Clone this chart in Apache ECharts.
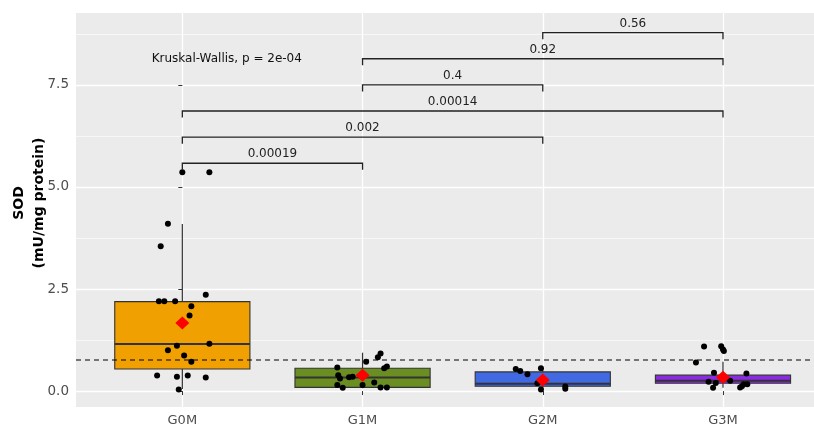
<!DOCTYPE html>
<html>
<head>
<meta charset="utf-8">
<script src="https://cdn.jsdelivr.net/npm/echarts@6/dist/echarts.min.js"></script>
<style>
  html, body { margin: 0; padding: 0; background: #ffffff; }
  #chart { width: 814px; height: 429px; }
</style>
</head>
<body>
<div id="chart"></div>
<script>
// Groups on the x axis
const groups = ['G0M', 'G1M', 'G2M', 'G3M'];
const boxColors = ['#F0A000', '#6B8E23', '#4169E1', '#8A2BE2'];

// Box statistics per group
const whiskerLow  = [0.05, 0.07, 0.04, 0.08];
const q1          = [0.54, 0.09, 0.12, 0.19];
const median      = [1.15, 0.33, 0.18, 0.25];
const q3          = [2.19, 0.56, 0.47, 0.39];
const whiskerHigh = [4.09, 0.94, 0.56, 0.72];
const means       = [1.67, 0.39, 0.27, 0.34];

// Individual observations: [horizontal jitter in group units, SOD value]
const pointsG0M = [
  [0.00, 5.36], [0.15, 5.36], [-0.08, 4.10], [-0.12, 3.55], [0.13, 2.36],
  [-0.13, 2.20], [-0.10, 2.20], [-0.04, 2.20], [0.05, 2.08], [0.04, 1.85],
  [-0.03, 1.11], [0.15, 1.16], [-0.08, 1.00], [0.01, 0.87], [0.05, 0.72],
  [-0.14, 0.38], [-0.03, 0.35], [0.03, 0.38], [0.13, 0.33], [-0.02, 0.04]
];
const pointsG1M = [
  [0.02, 0.72], [0.085, 0.83], [0.10, 0.92], [0.12, 0.56], [0.135, 0.60],
  [-0.14, 0.58], [-0.135, 0.39], [-0.125, 0.31], [-0.075, 0.34], [-0.055, 0.35],
  [0.065, 0.21], [-0.14, 0.15], [-0.11, 0.08], [0.00, 0.15], [0.10, 0.09],
  [0.135, 0.09]
];
const pointsG2M = [
  [-0.15, 0.54], [-0.125, 0.49], [-0.085, 0.41], [-0.01, 0.56],
  [-0.03, 0.19], [-0.01, 0.04], [0.125, 0.11], [0.125, 0.06]
];
const pointsG3M = [
  [-0.105, 1.09], [-0.01, 1.10], [0.00, 1.02], [0.005, 0.98], [-0.15, 0.70],
  [-0.05, 0.45], [0.13, 0.43], [-0.08, 0.23], [-0.04, 0.20], [-0.055, 0.08],
  [0.04, 0.25], [0.105, 0.12], [0.115, 0.17], [0.135, 0.17], [0.095, 0.09]
];
const groupPoints = [pointsG0M, pointsG1M, pointsG2M, pointsG3M];

// Reference level (dashed line)
const refLevel = 0.76;

// Pairwise comparisons (Wilcoxon p-values) and bracket heights
const bracketFrom = [0, 0, 0, 1, 1, 2];
const bracketTo   = [1, 2, 3, 2, 3, 3];
const bracketY    = [5.58, 6.22, 6.86, 7.50, 8.14, 8.78];
const bracketP    = ['0.00019', '0.002', '0.00014', '0.4', '0.92', '0.56'];

// Global test label
const globalTest = 'Kruskal-Wallis, p = 2e-04';
const globalTestPos = [-0.17, 8.13];

// Axis ticks
const yMajorTicks = [0, 2.5, 5, 7.5];
const yMinorTicks = [1.25, 3.75, 6.25, 8.75];
const xTicks = [0, 1, 2, 3];

const X_MIN = -0.59, X_MAX = 3.505;
const Y_MIN = -0.39, Y_MAX = 9.26;
const FONT = 'DejaVu Sans';
const INK = '#333333';

const chart = echarts.init(document.getElementById('chart'), null, { renderer: 'canvas' });

const boxData = groups.map((g, i) => [i, whiskerLow[i], q1[i], median[i], q3[i], whiskerHigh[i]]);

function renderBox(params, api) {
  const i = params.dataIndex;
  const x = api.value(0);
  const hw = 0.375;
  const lo = api.coord([x, api.value(1)]);
  const b1 = api.coord([x - hw, api.value(2)]);
  const md1 = api.coord([x - hw, api.value(3)]);
  const md2 = api.coord([x + hw, api.value(3)]);
  const b3 = api.coord([x + hw, api.value(4)]);
  const hi = api.coord([x, api.value(5)]);
  const q1c = api.coord([x, api.value(2)]);
  const q3c = api.coord([x, api.value(4)]);
  return {
    type: 'group',
    children: [
      { type: 'line', shape: { x1: hi[0], y1: hi[1], x2: q3c[0], y2: q3c[1] },
        style: { stroke: INK, lineWidth: 1.2 } },
      { type: 'line', shape: { x1: q1c[0], y1: q1c[1], x2: lo[0], y2: lo[1] },
        style: { stroke: INK, lineWidth: 1.2 } },
      { type: 'rect',
        shape: { x: b1[0], y: b3[1], width: b3[0] - b1[0], height: b1[1] - b3[1] },
        style: { fill: boxColors[i], stroke: INK, lineWidth: 1.1 } },
      { type: 'line', shape: { x1: md1[0], y1: md1[1], x2: md2[0], y2: md2[1] },
        style: { stroke: INK, lineWidth: 2 } }
    ]
  };
}

function renderBracket(params, api) {
  const i = params.dataIndex;
  const x1 = api.value(0), x2 = api.value(1), y = api.value(2);
  const tickDrop = 0.16;
  const a = api.coord([x1, y - tickDrop]);
  const b = api.coord([x1, y]);
  const c = api.coord([x2, y]);
  const d = api.coord([x2, y - tickDrop]);
  return {
    type: 'group',
    children: [
      { type: 'polyline', shape: { points: [a, b, c, d] },
        style: { stroke: '#222', lineWidth: 1.3, fill: null } },
      { type: 'text',
        style: { text: bracketP[i], x: (b[0] + c[0]) / 2, y: b[1] - 3,
                 align: 'center', verticalAlign: 'bottom',
                 font: '12px "' + FONT + '"', fill: '#222' } }
    ]
  };
}

function renderGlobal(params, api) {
  const p = api.coord([api.value(0), api.value(1)]);
  return {
    type: 'text',
    style: { text: globalTest, x: p[0], y: p[1], align: 'left', verticalAlign: 'middle',
             font: '12px "' + FONT + '"', fill: '#111' }
  };
}

const pointData = [];
groupPoints.forEach((pts, gi) => pts.forEach(p => pointData.push([gi + p[0], p[1]])));
const meanData = means.map((m, i) => [i, m]);
const bracketData = bracketFrom.map((f, i) => [f, bracketTo[i], bracketY[i]]);

chart.setOption({
  animation: false,
  backgroundColor: '#ffffff',
  grid: { left: 76, right: 0, top: 13, bottom: 22, show: true,
          backgroundColor: '#EBEBEB', borderWidth: 0, containLabel: false },
  graphic: [{
    type: 'text', x: 29, y: 203, rotation: Math.PI / 2,
    style: { text: 'SOD\n(mU/mg protein)', align: 'center', verticalAlign: 'middle',
             font: 'bold 14px "' + FONT + '"', fill: '#000', lineHeight: 20 }
  }],
  xAxis: {
    type: 'value', min: X_MIN, max: X_MAX,
    axisLine: { show: false },
    axisTick: { show: true, length: 4, customValues: xTicks, lineStyle: { color: INK } },
    axisLabel: { customValues: xTicks, formatter: v => groups[Math.round(v)],
                 color: '#4d4d4d', fontSize: 13, fontFamily: FONT, margin: 7 },
    splitLine: { show: true, lineStyle: { color: '#ffffff', width: 1.3 } }
  },
  yAxis: [{
    type: 'value', min: Y_MIN, max: Y_MAX,
    axisLine: { show: false },
    axisTick: { show: true, length: 4, customValues: yMajorTicks, lineStyle: { color: INK } },
    axisLabel: { customValues: yMajorTicks, formatter: v => v.toFixed(1),
                 color: '#4d4d4d', fontSize: 13.5, fontFamily: FONT, margin: 7 },
    splitLine: { show: true, lineStyle: { color: '#ffffff', width: 1.3 } }
  }, {
    type: 'value', min: Y_MIN, max: Y_MAX, position: 'left',
    axisLine: { show: false },
    axisTick: { show: false, customValues: yMinorTicks },
    axisLabel: { show: false },
    splitLine: { show: true, lineStyle: { color: '#ffffff', width: 0.6 } }
  }],
  series: [
    { type: 'custom', name: 'box', renderItem: renderBox, data: boxData,
      encode: { x: 0, y: [1, 2, 3, 4, 5] }, z: 2, silent: true },
    { type: 'line', name: 'ref', data: [[X_MIN, refLevel], [X_MAX, refLevel]],
      symbol: 'none', z: 3, silent: true,
      lineStyle: { color: '#000', width: 1.1, type: [5, 4] } },
    { type: 'scatter', name: 'obs', data: pointData, symbol: 'circle', symbolSize: 6,
      itemStyle: { color: '#000', opacity: 1 }, z: 4, silent: true },
    { type: 'scatter', name: 'mean', data: meanData, symbol: 'diamond', symbolSize: [14, 13],
      itemStyle: { color: '#FF0000', opacity: 1 }, z: 5, silent: true },
    { type: 'custom', name: 'brackets', renderItem: renderBracket, data: bracketData,
      encode: { x: [0, 1], y: 2 }, z: 6, silent: true },
    { type: 'custom', name: 'global', renderItem: renderGlobal, data: [globalTestPos],
      encode: { x: 0, y: 1 }, z: 6, silent: true }
  ]
});
</script>
</body>
</html>
